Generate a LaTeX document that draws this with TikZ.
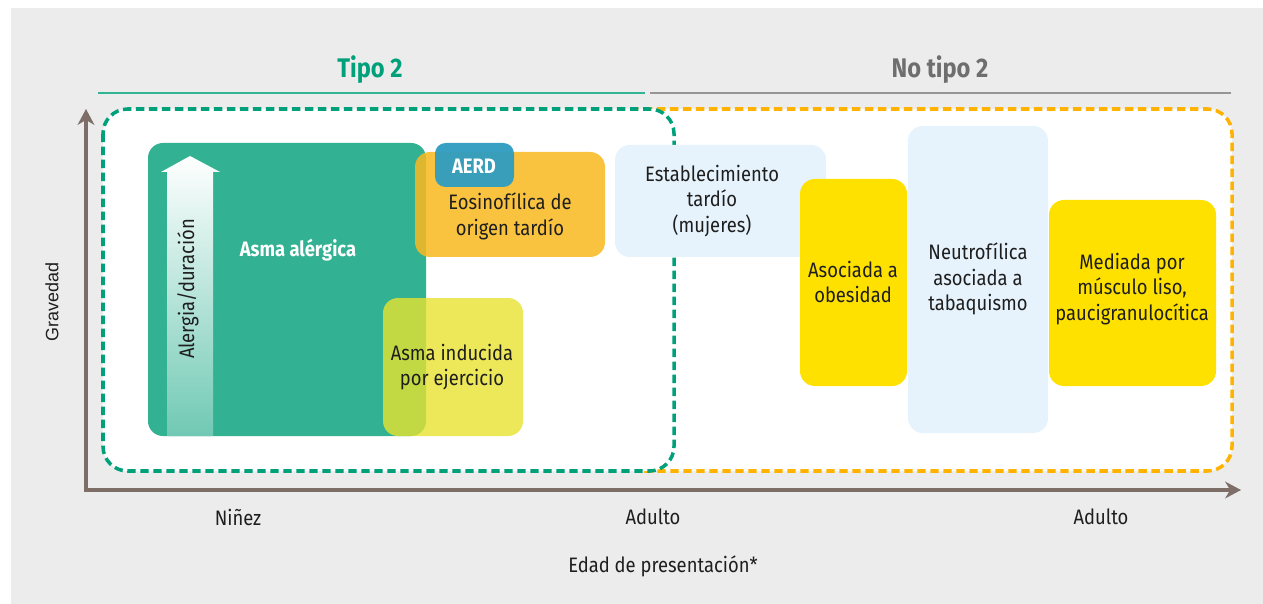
\documentclass[tikz,border=0pt]{standalone}
\usepackage{fontspec}
\setmainfont{Fira Sans}[FakeStretch=0.88]
\newfontfamily\gravfont{Liberation Sans}
\usetikzlibrary{arrows.meta}
\definecolor{bggray}{RGB}{236,236,236}
\definecolor{tipogreen}{RGB}{0,161,122}
\definecolor{alergreen}{RGB}{51,177,147}
\definecolor{notipogray}{RGB}{110,110,110}
\definecolor{rulegray}{RGB}{150,150,150}
\definecolor{dashorange}{RGB}{255,179,0}
\definecolor{axisbrown}{RGB}{125,111,104}
\definecolor{eosorange}{RGB}{250,185,30}
\definecolor{aerdblue}{RGB}{46,157,192}
\definecolor{ejeryellow}{RGB}{232,227,49}
\definecolor{paleblue}{RGB}{230,243,252}
\definecolor{sunyellow}{RGB}{255,225,0}
\definecolor{arrowfade}{RGB}{112,201,180}
\definecolor{inkblack}{RGB}{30,30,30}

\tikzset{
  boxtext/.style={align=center, text=inkblack, font=\fontsize{11.9}{14.7}\selectfont},
  boldtext/.style={text=white, font=\bfseries\fontsize{11.9}{14.7}\selectfont},
  headtext/.style={font=\bfseries\fontsize{15.3}{18}\selectfont},
  dashbox/.style={line width=2pt, dash pattern=on 4.8pt off 2.6pt, fill=white, rounded corners=14pt},
  axisline/.style={axisbrown, line width=2.55pt, line join=miter},
  card/.style={rounded corners=8.5pt},
}

\begin{document}
\begin{tikzpicture}[x=0.02cm, y=-0.02cm]
            \useasboundingbox (0,0) rectangle (1263,604);
            % Background
            \fill[bggray] (11,8) rectangle (1263,604);
            % Headers
            \node[headtext, text=tipogreen]  (tipo)   at ( 370, 70) {Tipo 2};
            \node[headtext, text=notipogray] (notipo) at ( 940, 70) {No tipo 2};
            \draw[tipogreen!80, line width=1.13pt] (  98, 93) -- ( 645, 93);
            \draw[rulegray,     line width=1.13pt] ( 650, 93) -- (1231, 93);
            % Dashed frames
            \draw[dashbox, draw=dashorange] ( 620,109) rectangle (1232,471);
            \draw[dashbox, draw=tipogreen]  ( 103,109) rectangle ( 674,471);
            % Axes
            \coordinate (ytop)   at (  86,109);
            \coordinate (origin) at (  86,490);
            \coordinate (xend)   at (1241,490);
            \draw[axisline, {Stealth[length=9pt,width=9.5pt,inset=2.8pt]}-{Stealth[length=9pt,width=9.5pt,inset=2.8pt]}]
                 (ytop) -- (origin) -- (xend);
            \node[rotate=90, text=inkblack, font=\gravfont\fontsize{10.2}{12}\selectfont] (gravedad) at (52,302) {Gravedad};
            \node[boxtext] (ninez)   at ( 238,517) {Niñez};
            \node[boxtext] (adulto)  at ( 653,517) {Adulto};
            \node[boxtext] (adulto2) at (1101,517) {Adulto};
            \node[boxtext] (edad)    at ( 663,566) {Edad de presentación*};
            % Asma alergica
            \fill[alergreen, card] ( 148,143) rectangle ( 426,436);
            \shade[top color=white, middle color=white, bottom color=arrowfade]
                 (167,436) -- (167,172) -- (161,172) -- (190,156) -- (220,172) -- (213,172) -- (213,436) -- cycle;
            \node[boxtext, rotate=90] (alergia)  at ( 188,289) {Alergia/duración};
            \node[boldtext]           (alergica) at ( 298,250) {Asma alérgica};
            % Eosinofilica / AERD
            \fill[eosorange, fill opacity=0.85, card] ( 415,152) rectangle ( 605,257);
            \fill[aerdblue, fill opacity=0.95, rounded corners=6pt] ( 435,143) rectangle ( 514,187);
            \node[boldtext] (aerd) at ( 474,166) {AERD};
            \node[boxtext]  (eos)  at ( 510,216) {Eosinofílica de\\origen tardío};
            % Asma inducida por ejercicio
            \fill[ejeryellow, fill opacity=0.8, card] ( 383,298) rectangle ( 523,436);
            \node[boxtext] (ejercicio) at ( 452,367) {Asma inducida\\por ejercicio};
            % No tipo 2 phenotypes
            \fill[paleblue, card] ( 615,145) rectangle ( 826,257);
            \node[boxtext] (mujeres) at ( 712,201) {Establecimiento\\tardío\\(mujeres)};
            \fill[sunyellow, card] ( 800,179) rectangle ( 907,386);
            \node[boxtext] (obesidad) at ( 853,282) {Asociada a\\obesidad};
            \fill[paleblue, card] ( 908,126) rectangle (1048,433);
            \node[boxtext] (tabaco) at ( 978,279) {Neutrofílica\\asociada a\\tabaquismo};
            \fill[sunyellow, card] (1049,200) rectangle (1216,386);
            \node[boxtext] (musculo) at (1132,289) {Mediada por\\músculo liso,\\paucigranulocítica};
\end{tikzpicture}
\end{document}
